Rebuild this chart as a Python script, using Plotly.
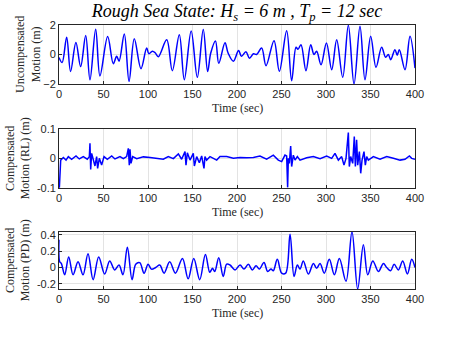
import numpy as np
import plotly.graph_objects as go
from plotly.subplots import make_subplots

# ---- data ----
# uncompensated heave motion (extrema / turning points), sec and m
t_unc = [0, 3.5, 8.6, 13, 19, 24.3, 30, 34.8, 41.2, 46, 54.7, 61, 64.8, 67.5, 73.4, 78.7, 84.6, 92.1,
         98.5, 101, 104.9, 108, 111.6, 121, 127.3, 135.2, 140.8, 148.5, 155.4, 162.1, 167, 170.5, 175.8,
         179.5, 186.5, 190, 195.9, 201.8, 205, 210, 214, 218.5, 222, 227.7, 232.6, 241.6, 247.6, 255.8,
         261.4, 266.3, 268.5, 271.9, 277.5, 282.8, 286.5, 289.5, 294.4, 300.5, 306.4, 312, 318.8, 325.1,
         331.5, 338.2, 343.8, 350.2, 356.2, 362.5, 367, 370, 372.7, 377.5, 380, 382.4, 388.8, 394.4, 400]
z_unc = [-0.2, -0.55, 1.17, -1.15, 0.82, -0.82, 1.28, -1.72, 1.72, -1.45, 1.22, -0.62, -0.12, -0.45, 1.39,
         -1.82, 1.07, -0.96, 0.44, 0.05, 0.22, 0.12, -0.15, 1.0, -1.1, 1.34, -1.71, 1.6, -1.55, 1.7, -1.15,
         0.1, 0.92, -0.6, 0.8, 0.1, -0.45, 0.27, -0.12, 0.18, -0.25, 0.05, 0.0, 0.44, -0.76, 0.94, -1.14,
         1.61, -1.78, 0.49, 0.35, 0.66, -1.1, 0.66, 0.0, 0.22, -0.69, 0.78, -1.03, 1.0, -1.55, 1.98, -2.0,
         1.91, -1.71, 1.23, -0.87, 0.49, -0.19, 0.0, -0.35, 0.33, -0.05, 0.33, -1.03, 1.23, -0.92]

# compensated motion, RL controller
t_rl = [0, 0.4, 1.9, 4.9, 7.9, 10.5, 14.2, 19.1, 22.8, 27.3, 31.8, 34.1, 34.8, 35.6, 36.7, 38.6, 40.4, 42.3,
        43.4, 45.3, 47.9, 50.6, 54.3, 59.2, 62.9, 68.5, 72.3, 76.0, 77.9, 79.0, 79.8, 80.9, 82.8, 87.3, 94.8,
        102.3, 109.7, 117.2, 122.8, 128.5, 134.1, 137.8, 141.6, 142.7, 144.2, 147.2, 150.9, 152.1, 154.7,
        157.7, 160.3, 162.9, 164.0, 165.9, 169.7, 173.4, 177.2, 180.9, 188.4, 195.9, 203.4, 210.9, 218.4,
        225.8, 233.3, 240.8, 246.4, 250.2, 253.9, 255.8, 256.9, 257.7, 258.8, 260.3, 261.4, 263.3, 265.2,
        267.8, 270.8, 278.3, 285.8, 293.3, 300.7, 306.4, 310.1, 313.9, 317.6, 320.2, 322.5, 325.1, 326.2,
        327.7, 330.0, 331.8, 333.0, 334.4, 335.6, 337.5, 339.0, 340.5, 342.7, 344.2, 345.7, 347.6, 353.2,
        360.7, 368.2, 375.7, 383.2, 388.8, 393.7, 396.3, 400]
z_rl = [-0.1, -0.1, -0.006, 0.003, -0.006, 0.006, -0.003, 0.008, -0.002, 0.006, -0.003, 0.006, 0.051, -0.038,
        0.017, -0.011, -0.026, 0.006, -0.034, 0.0, -0.023, 0.006, -0.003, 0.008, -0.002, 0.006, -0.001, 0.006,
        0.034, -0.023, 0.031, -0.017, 0.006, -0.001, 0.005, 0.003, 0.001, -0.003, 0.006, -0.001, 0.015, -0.003,
        0.023, -0.023, 0.019, -0.006, 0.017, -0.026, 0.006, -0.015, 0.008, -0.034, 0.006, -0.006, 0.006, 0.0,
        -0.006, 0.006, 0.006, 0.0, 0.003, 0.002, 0.003, 0.008, -0.003, 0.011, -0.006, -0.011, 0.011, 0.008,
        -0.099, 0.0, -0.017, 0.042, -0.028, 0.011, -0.006, 0.006, -0.006, 0.002, 0.006, -0.001, 0.008, 0.0,
        0.017, -0.006, 0.006, -0.023, 0.0, 0.088, -0.028, 0.006, -0.017, 0.074, -0.028, 0.063, -0.023, 0.023,
        -0.051, -0.006, 0.023, -0.023, 0.006, -0.006, 0.006, -0.003, 0.006, 0.0, -0.006, -0.003, 0.008, 0.0,
        -0.003]

# compensated motion, PD controller
t_pd = [0, 0.8, 2.6, 6.4, 10.9, 15.8, 21.4, 27.0, 32.6, 38.3, 44.6, 51.3, 57.0, 62.6, 67.4, 71.9, 76.8,
        82.1, 86.2, 90.7, 95.6, 100.1, 103.8, 108.7, 113.2, 118.1, 124.4, 130.8, 138.7, 145.1, 151.4, 158.1,
        164.5, 169.4, 172.4, 175.0, 179.5, 184.5, 188.4, 192.1, 197.8, 203.4, 207.9, 212.7, 217.2, 221.4,
        225.1, 230.3, 234.5, 238.2, 240.8, 245.3, 250.2, 254.7, 259.6, 264.1, 267.8, 270.8, 274.5, 280.2,
        285.8, 289.5, 293.3, 298.1, 303.7, 309.4, 315.0, 322.5, 329.2, 335.6, 342.0, 346.9, 352.6, 358.9,
        364.5, 368.2, 372.7, 376.5, 381.3, 386.2, 391.5, 396.3, 400]
z_pd = [0.34, 0.07, 0.05, -0.09, 0.13, -0.09, 0.07, -0.09, 0.17, -0.15, 0.13, -0.08, 0.08, -0.03, 0.03,
        -0.09, 0.25, -0.15, 0.04, 0.06, -0.07, 0.04, -0.02, 0.0, 0.03, -0.07, 0.07, -0.07, 0.11, -0.14, 0.11,
        -0.15, 0.16, -0.06, -0.01, -0.05, 0.12, -0.11, 0.04, 0.03, -0.03, 0.03, -0.02, 0.04, -0.03, 0.02,
        -0.02, 0.06, -0.05, -0.02, -0.04, 0.10, -0.07, -0.07, 0.41, -0.11, 0.03, -0.02, 0.08, -0.08, 0.05,
        -0.01, 0.05, -0.07, 0.10, -0.09, 0.11, -0.17, 0.44, -0.265, 0.28, -0.09, 0.08, -0.05, 0.05, 0.0,
        -0.04, 0.04, -0.03, 0.08, -0.08, 0.10, 0.0]

x_ticks = [0, 50, 100, 150, 200, 250, 300, 350, 400]
y1_ticks = [-2, 0, 2]
y2_ticks = [-0.1, 0, 0.1]
y2_labels = ['-0.1', '0', '0.1']
y3_ticks = [-0.2, 0, 0.2, 0.4]
y3_labels = ['-0.2', '0', '0.2', '0.4']

W, H = 458, 343
blue = 'rgb(0,0,255)'
dark = '#262626'

fig = make_subplots(rows=3, cols=1)

fig.add_trace(go.Scatter(x=t_unc, y=z_unc, mode='lines', line=dict(color=blue, width=1.5, shape='spline', smoothing=1.0),
                         showlegend=False), row=1, col=1)
fig.add_trace(go.Scatter(x=t_rl, y=z_rl, mode='lines', line=dict(color=blue, width=1.5),
                         showlegend=False), row=2, col=1)
fig.add_trace(go.Scatter(x=t_pd, y=z_pd, mode='lines', line=dict(color=blue, width=1.5, shape='spline', smoothing=1.0),
                         showlegend=False), row=3, col=1)

# pixel boxes of the 3 axes (top, bottom) measured on the reference
boxes = [(25, 84), (129, 187.7), (231.7, 289)]
xl, xr = 59, 415

ax_common = dict(showline=True, mirror=True, linecolor=dark, linewidth=0.8,
                 ticks='inside', ticklen=3, tickcolor=dark, showgrid=True, gridcolor='#e3e3e3',
                 zeroline=False, automargin=False,
                 tickfont=dict(family='Liberation Sans, Arial', size=11, color=dark))

for i, (yt, yb) in enumerate(boxes):
    n = '' if i == 0 else str(i + 1)
    fig.layout['xaxis' + n].update(domain=[xl / W, xr / W], range=[0, 400], tickvals=x_ticks, **ax_common)
    fig.layout['yaxis' + n].update(domain=[1 - yb / H, 1 - yt / H], **ax_common)

fig.layout.yaxis.update(range=[-2, 2], tickvals=y1_ticks)
fig.layout.yaxis2.update(range=[-0.1, 0.1], tickvals=y2_ticks, ticktext=y2_labels)
fig.layout.yaxis3.update(range=[-0.265, 0.44], tickvals=y3_ticks, ticktext=y3_labels)

serif = 'Liberation Serif, DejaVu Serif, serif'
ytitles = ['Uncompensated<br>Motion (m)', 'Compensated<br>Motion (RL) (m)', 'Compensated<br>Motion (PD) (m)']
ytx = [27.5, 18, 18]
for i, (yt, yb) in enumerate(boxes):
    fig.add_annotation(text=ytitles[i], textangle=-90, xref='paper', yref='paper',
                       x=ytx[i] / W, y=1 - (yt + yb) / 2 / H, xanchor='center', yanchor='middle',
                       showarrow=False, font=dict(family=serif, size=12, color=dark), align='center')
    fig.add_annotation(text='Time (sec)', xref='paper', yref='paper',
                       x=(xl + xr) / 2 / W, y=1 - (yb + 24) / H, xanchor='center', yanchor='middle',
                       showarrow=False, font=dict(family=serif, size=12, color=dark))

fig.update_layout(
    width=W, height=H,
    margin=dict(l=0, r=0, t=0, b=0),
    paper_bgcolor='white', plot_bgcolor='white',
    title=dict(text='<i>Rough Sea State: H<sub>s</sub> = 6 m , T<sub>p</sub> = 12 sec</i>',
               x=(xl + xr) / 2 / W, xanchor='center', y=1 - 11 / H, yanchor='middle',
               font=dict(family=serif, size=18, color='black')),
)

# the page body has an 8px default margin; drop it so pixels line up with the reference
fig.write_html("out.html", config={'displayModeBar': False},
               post_script="document.body.style.margin='0';")
